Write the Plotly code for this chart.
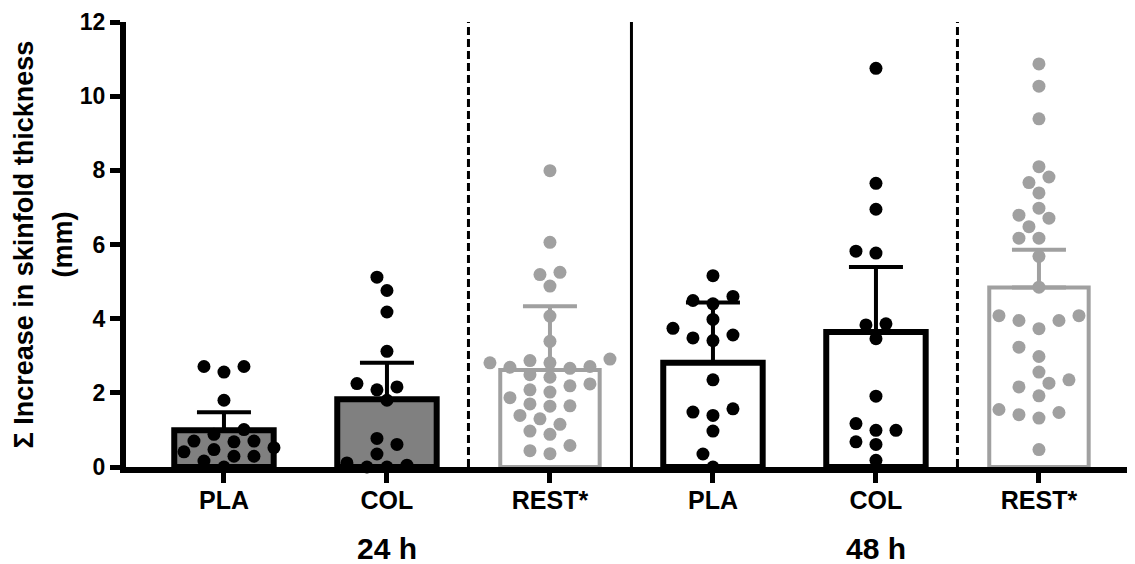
import numpy as np
import plotly.graph_objects as go

# ---------------- data ----------------
categories = ["PLA", "COL", "REST*", "PLA", "COL", "REST*"]
group_labels = ["24 h", "48 h"]

pla_24 = [2.71, 2.56, 2.71, 1.80, 0.88, 1.01, 0.68, 0.70, 0.70, 0.52, 0.41, 0.47, 0.29, 0.29, 0.16, 0.00]
col_24 = [5.12, 4.76, 4.18, 3.12, 2.16, 2.25, 2.08, 1.80, 0.77, 0.61, 0.35, 0.05, 0.00, 0.00, 0.11]
rest_24 = [7.99, 6.06, 5.19, 5.25, 4.88, 4.07, 3.39, 2.87, 2.81, 2.81, 2.91, 2.71, 2.66, 2.69, 2.42, 2.49,
           2.19, 2.24, 2.08, 2.02, 1.87, 1.70, 1.64, 1.65, 1.39, 1.30, 1.15, 0.97, 0.88, 0.58, 0.44, 0.36]
pla_48 = [5.16, 4.60, 4.40, 4.49, 3.98, 3.74, 3.56, 3.41, 3.48, 2.35, 1.39, 1.57, 1.48, 0.97, 0.35, 0.00]
col_48 = [10.75, 7.65, 6.95, 5.77, 5.82, 3.83, 3.86, 3.46, 1.91, 0.99, 0.99, 1.17, 0.68, 0.61, 0.18]
rest_48 = [10.87, 10.27, 9.39, 8.10, 7.82, 7.67, 7.39, 6.98, 6.79, 6.71, 6.48, 6.17, 6.17, 5.68, 4.85, 4.08,
           3.95, 3.95, 3.73, 4.08, 3.23, 2.98, 2.56, 2.35, 2.26, 2.16, 1.92, 1.55, 1.41, 1.32, 1.47, 0.47]
error_upper = [0.48, 0.99, 1.72, 1.63, 1.75, 1.02]

series = [pla_24, col_24, rest_24, pla_48, col_48, rest_48]

# ---------------- styles ----------------
GRAY = "#a0a0a0"
fills = ["#808080", "#808080", "white", "white", "white", "white"]
edges = ["black", "black", GRAY, "black", "black", GRAY]
edge_w = [6, 6, 4, 6, 6, 4]
FONT = "Liberation Sans, Arial, Helvetica, sans-serif"

# page has an 8px body margin; figure sized to fill the rest of the window
W, H = 1127, 556
ML, MR, MT, MB = 118, 0, 14, 97
plot_w = W - ML - MR
plot_h = H - MT - MB
xr = [-0.601, -0.601 + plot_w / 163.0]
yr = [0, 12]
px_x = plot_w / (xr[1] - xr[0])
px_y = plot_h / (yr[1] - yr[0])


def swarm(values, step_px=10, min_dist=14):
    vals = np.asarray(values, dtype=float)
    order = np.argsort(vals, kind="stable")
    placed = []
    offs = np.zeros(len(vals))
    cands = [0] + [s * k for k in range(1, 30) for s in (-1, 1)]
    for i in order:
        y = vals[i] * px_y
        xo = 0
        for k in cands:
            xo = k * step_px
            if all((xo - a) ** 2 + (y - b) ** 2 >= min_dist ** 2 for a, b in placed):
                break
        placed.append((xo, y))
        offs[i] = xo / px_x
    return offs


fig = go.Figure()

# bars with upper error bars
for i, vals in enumerate(series):
    fig.add_trace(go.Bar(
        x=[i], y=[float(np.mean(vals))], width=0.61,
        marker=dict(color=fills[i], line=dict(color=edges[i], width=edge_w[i])),
        error_y=dict(type="data", symmetric=False, array=[error_upper[i]], arrayminus=[0],
                     color=edges[i], thickness=4, width=27),
        showlegend=False, hoverinfo="skip",
    ))

# individual points
for i, vals in enumerate(series):
    offs = swarm(vals)
    fig.add_trace(go.Scatter(
        x=i + offs, y=vals, mode="markers",
        marker=dict(size=13, color=edges[i], line=dict(width=0)),
        showlegend=False, hoverinfo="skip", cliponaxis=False,
    ))

# separators between categories
sep = [(1, 2, "8px,4px"), (2, 3, "solid"), (4, 5, "8px,4px")]
for a, b, dash in sep:
    xm = (a + b) / 2
    fig.add_shape(type="line", xref="x", yref="paper", x0=xm, x1=xm, y0=0, y1=1,
                  line=dict(color="black", width=3, dash=dash), layer="below")

# group labels under the axis
for gi, lab in enumerate(group_labels):
    fig.add_annotation(text=lab, x=1 + 3 * gi, xref="x", y=0, yref="paper", yshift=-81,
                       yanchor="middle", xanchor="center", showarrow=False,
                       font=dict(family=FONT, size=30, color="black", weight="bold"))

# y-axis title (two lines)
fig.add_annotation(text="Σ Increase in skinfold thickness", x=0, xref="paper", xshift=23 - 126,
                   y=0.5, yref="paper", textangle=-90, showarrow=False,
                   xanchor="center", yanchor="middle",
                   font=dict(family=FONT, size=27, color="black", weight="bold"))
fig.add_annotation(text="(mm)", x=0, xref="paper", xshift=62 - 126,
                   y=0.5, yref="paper", textangle=-90, showarrow=False,
                   xanchor="center", yanchor="middle",
                   font=dict(family=FONT, size=27, color="black", weight="bold"))

fig.update_layout(
    width=W, height=H, margin=dict(l=ML, r=MR, t=MT, b=MB),
    plot_bgcolor="white", paper_bgcolor="white", barmode="overlay",
    xaxis=dict(range=xr, tickmode="array", tickvals=list(range(len(categories))), ticktext=categories,
               showgrid=False, zeroline=False, showline=True, linecolor="black", linewidth=6,
               ticks="outside", ticklen=10, tickwidth=5, tickcolor="black", ticklabelstandoff=-4,
               tickfont=dict(family=FONT, size=25, color="black", weight="bold")),
    yaxis=dict(range=yr, tickvals=[0, 2, 4, 6, 8, 10, 12],
               showgrid=False, zeroline=False, showline=True, linecolor="black", linewidth=6,
               ticks="outside", ticklen=10, tickwidth=5, tickcolor="black",
               tickfont=dict(family=FONT, size=23, color="black", weight="bold")),
)

fig.write_html("out.html")
